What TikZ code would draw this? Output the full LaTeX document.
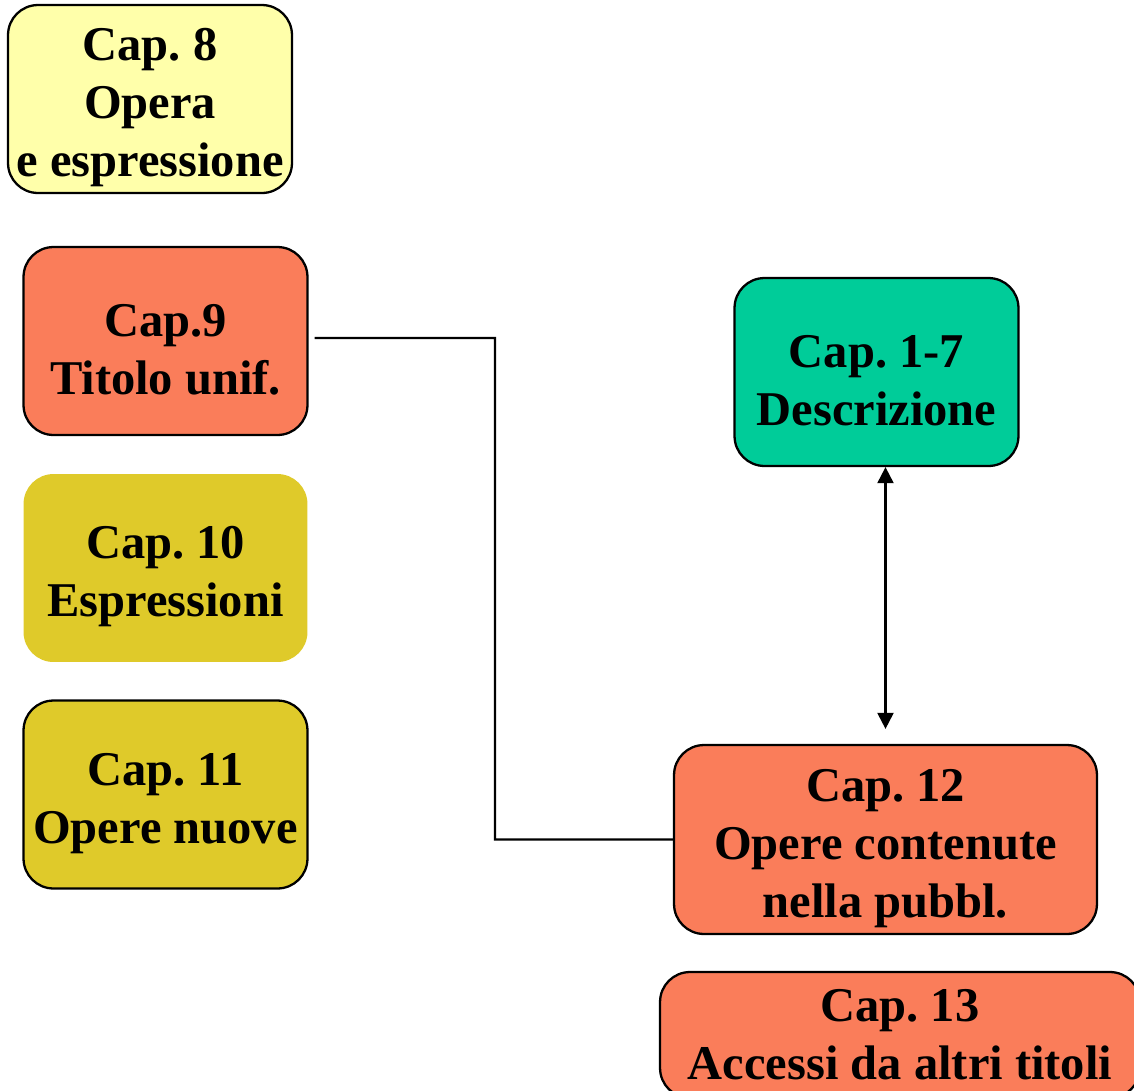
\documentclass[tikz,border=0pt]{standalone}
\usepackage{fontspec}
\setmainfont{Liberation Serif}
\usepackage{xcolor}
\usetikzlibrary{shapes, arrows.meta, positioning}

\definecolor{paleyellow}{RGB}{255,255,170}
\definecolor{mustard}{RGB}{223,202,42}
\definecolor{salmon}{RGB}{250,125,90}
\definecolor{teal}{RGB}{0,204,153}

% taller first line, so the text sits a little low in its box
\newcommand{\capgap}{\rule{0pt}{1cm}}

\tikzset{
    capbox/.style={rounded corners=0.6cm, draw=black, line width=1.3pt, align=center,
        font=\fontsize{27.6}{33}\selectfont\bfseries\frenchspacing, inner sep=0pt},
    smallbox/.style={capbox, minimum width=5.68cm, minimum height=3.76cm},
    link/.style={line width=1.2pt}
}

\begin{document}
\begin{tikzpicture}[x=0.02cm, y=-0.02cm]
        \clip (0,0) rectangle (1134,1090);
        \useasboundingbox (0,0) rectangle (1134,1090);
        % left column
        \node[smallbox, fill=paleyellow] (c8) at (150,99) {\capgap Cap. 8\\Opera\\e espressione};
        \node[smallbox, fill=salmon] (c9) at (165.5,341) {\capgap Cap.9\\Titolo unif.};
        \node[smallbox, fill=mustard, draw=none] (c10) at (165.5,568) {\capgap Cap. 10\\Espressioni};
        \node[smallbox, fill=mustard] (c11) at (165.5,794.5) {\capgap Cap. 11\\Opere nuove};
        % right column
        \node[smallbox, fill=teal] (c17) at (876.5,372) {\capgap Cap. 1-7\\Descrizione};
        \node[capbox, fill=salmon, minimum width=8.46cm, minimum height=3.78cm] (c12) at (885.5,839.5) {\capgap Cap. 12\\Opere contenute\\nella pubbl.};
        \node[capbox, fill=salmon, minimum width=9.6cm, minimum height=2.52cm] (c13) at (900,1035) {Cap. 13\\Accessi da altri titoli};
        % connectors
        \coordinate (bend) at (495,338);
        \draw[link] ([xshift=0.12cm,yshift=0.06cm]c9.east) -- (bend) |- (c12.west);
        \draw[link, {Triangle[length=0.32cm,width=0.32cm]}-{Triangle[length=0.32cm,width=0.32cm]}, shorten >=0.3cm]
            (c12.north |- c17.south) -- (c12.north);
    \end{tikzpicture}
\end{document}
